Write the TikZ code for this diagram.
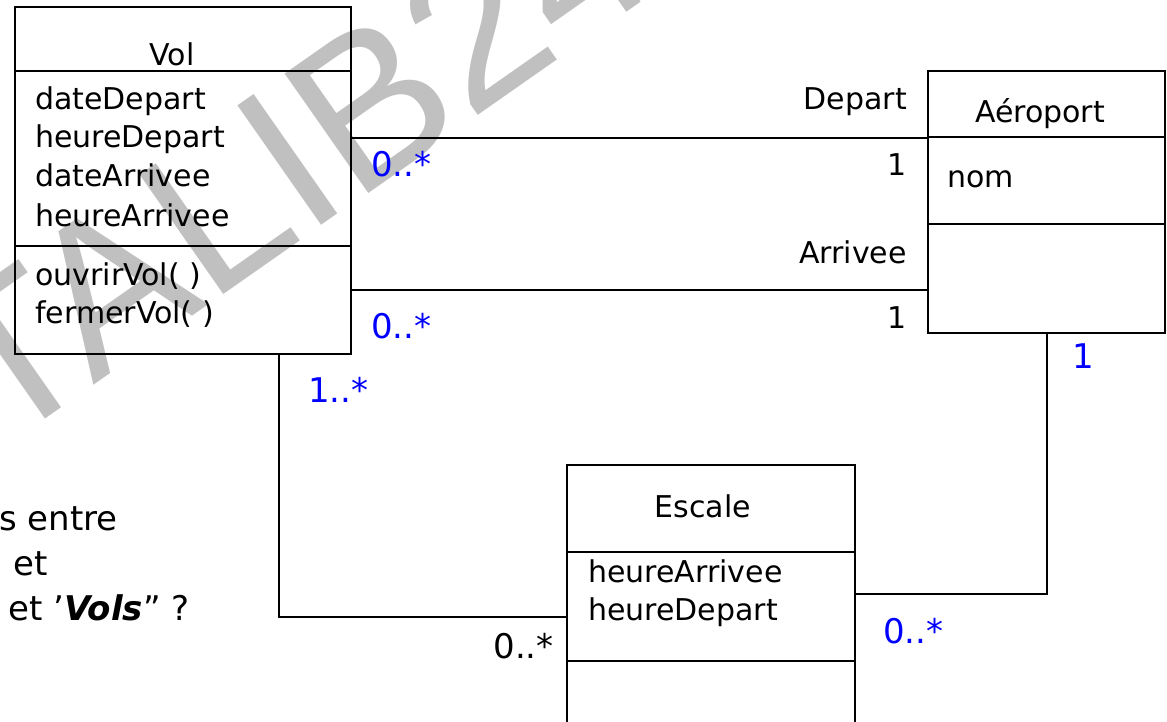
\documentclass[tikz,border=0pt]{standalone}
\usepackage{fontspec}
\setmainfont{DejaVu Sans}
\newfontfamily\markfont{Liberation Sans}
\usepackage{tikz}
\definecolor{markgray}{RGB}{192, 192, 192}
\definecolor{multblue}{RGB}{0, 0, 255}

\begin{document}
\begin{tikzpicture}[x=1pt, y=-1pt,
    box/.style={draw, line width=2pt, inner sep=0pt},
    lnk/.style={line width=1.8pt},
    lbl/.style={inner sep=0pt, font=\fontsize{30}{36}\selectfont},
    mult/.style={inner sep=0pt, text=multblue, font=\fontsize{34}{40}\selectfont},
    quest/.style={inner sep=0pt, font=\fontsize{34}{40}\selectfont}]
    % Frame
    \clip (0,0) rectangle (1167,722);
    \fill[white] (0,0) rectangle (1167,722);

    % Watermark
    \node[inner sep=0pt, text=markgray, rotate=35, anchor=base west,
          font=\markfont\fontsize{212}{212}\selectfont] (mark) at (0,451) {TALIB24};

    % Vol
    \node[box, minimum width=336, minimum height=64] (volT) at (183,39) {};
    \node[box, minimum width=336, minimum height=175] (volA) at (183,158.5) {};
    \node[box, minimum width=336, minimum height=108] (volM) at (183,300) {};
    \node[lbl, anchor=base] (volName) at (172,66) {Vol};
    \node[lbl, anchor=base west] (volA1) at (35,110) {dateDepart};
    \node[lbl, anchor=base west] (volA2) at (35,148) {heureDepart};
    \node[lbl, anchor=base west] (volA3) at (35,187) {dateArrivee};
    \node[lbl, anchor=base west] (volA4) at (35,226) {heureArrivee};
    \node[lbl, anchor=base west] (volM1) at (35,285) {ouvrirVol( )};
    \node[lbl, anchor=base west] (volM2) at (35,323) {fermerVol( )};

    % Aeroport
    \node[box, minimum width=237, minimum height=66] (aeroT) at (1046.5,104) {};
    \node[box, minimum width=237, minimum height=87] (aeroA) at (1046.5,180.5) {};
    \node[box, minimum width=237, minimum height=109] (aeroM) at (1046.5,278.5) {};
    \node[lbl, anchor=base] (aeroName) at (1040,123) {Aéroport};
    \node[lbl, anchor=base west] (aeroA1) at (947,188) {nom};

    % Escale
    \node[box, minimum width=288, minimum height=87] (escT) at (711,508.5) {};
    \node[box, minimum width=288, minimum height=109] (escA) at (711,606.5) {};
    \node[box, minimum width=288, minimum height=109] (escM) at (711,715.5) {};
    \node[lbl, anchor=base] (escName) at (703,517) {Escale};
    \node[lbl, anchor=base west] (escA1) at (588,582) {heureArrivee};
    \node[lbl, anchor=base west] (escA2) at (588,620) {heureDepart};

    % Links
    \coordinate (aeroArr) at (928,290);
    \coordinate (volEsc) at (279,354);
    \coordinate (escVol) at (567,617);
    \coordinate (escAero) at (855,594);
    \coordinate (aeroEsc) at (1047,333);
    \draw[lnk] (aeroT.south west) -- (aeroT.south west -| volA.east);
    \draw[lnk] (aeroArr) -- (aeroArr -| volM.east);
    \draw[lnk] (volEsc) |- (escVol);
    \draw[lnk] (escAero) -| (aeroEsc);

    % Roles and multiplicities
    \node[lbl, anchor=base east] (depRole) at (907,110) {Depart};
    \node[lbl, anchor=base east] (depOne) at (907,176) {1};
    \node[lbl, anchor=base east] (arrRole) at (907,263) {Arrivee};
    \node[lbl, anchor=base east] (arrOne) at (907,328) {1};
    \node[mult, anchor=base west] (depMany) at (371,177) {0..*};
    \node[mult, anchor=base west] (arrMany) at (371,338) {0..*};
    \node[mult, anchor=base] (aeroOne) at (1083,368) {1};
    \node[mult, anchor=base west] (volSome) at (308,402) {1..*};
    \node[mult, anchor=base west] (escMany) at (883,643) {0..*};
    \node[mult, text=black, anchor=base east] (escVolMany) at (554,658) {0..*};

    % Question (cut at the left edge)
    \node[quest, anchor=base west] (q1) at (-1,530) {s entre};
    \node[quest, anchor=base east] (q2) at (48,575) {’ et};
    \node[quest, anchor=base west] (q3) at (8,620) {et ’\textbf{\textit{Vols}}” ?};

\end{tikzpicture}
\end{document}
